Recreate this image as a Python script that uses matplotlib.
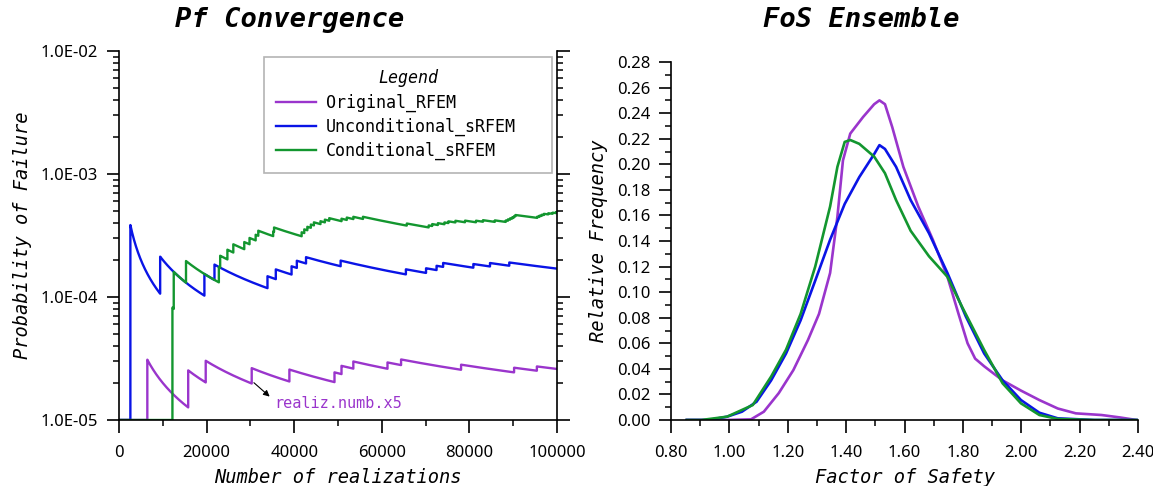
#importing
import matplotlib
matplotlib.use("Agg")
import matplotlib.pyplot as plt
import numpy as np
from matplotlib.ticker import FuncFormatter, MultipleLocator, NullFormatter

################################################
# data

# realization numbers at which a failure showed up (read at each jump)
# Original_RFEM is drawn against realiz.numb/5 (the "x5" note on the chart)
fail_original = [6470, 15800, 19800, 30300, 38900, 49200, 50800, 53500,
                 61300, 64400, 78100, 90200, 95400]
fail_uncond = [2600, 9400, 19500, 21800, 33900, 35800, 39400, 40600, 42700,
               50600, 65500, 70100, 72500, 74000, 80900, 84700, 89100]
fail_cond = [12200, 12500, 15300, 22800, 23100, 24750, 26100, 28600, 29800,
             31200, 31800, 35200, 35400, 41700, 42300, 43000, 43800, 44500,
             46000, 47000, 48000, 50800, 52000, 53500, 55700, 65700, 70700,
             71500, 72800, 74300, 75200, 76800, 79000, 81500, 83100, 85800,
             88300, 88800, 89300, 89800, 90200, 90500, 95500, 96000, 96500,
             97000, 98000, 99000, 99800]
n_max = 100000

# FoS ensemble (relative frequency curves)
fos_original = [0.854, 0.99, 1.074, 1.118, 1.169, 1.219, 1.269, 1.307, 1.345,
                1.37, 1.389, 1.414, 1.458, 1.496, 1.514, 1.533, 1.558, 1.596,
                1.647, 1.697, 1.747, 1.785, 1.816, 1.842, 1.873, 1.936, 1.999,
                2.062, 2.125, 2.187, 2.275, 2.338, 2.395]
rf_original = [0.0, 0.0, 0.0005, 0.0065, 0.021, 0.039, 0.0625, 0.083, 0.115,
               0.159, 0.203, 0.224, 0.237, 0.247, 0.250, 0.247, 0.229, 0.198,
               0.167, 0.141, 0.112, 0.083, 0.060, 0.048, 0.042, 0.031, 0.023,
               0.0156, 0.009, 0.0052, 0.0039, 0.002, 0.0]

fos_uncond = [0.854, 0.93, 0.992, 1.043, 1.093, 1.143, 1.194, 1.244, 1.294,
              1.345, 1.395, 1.445, 1.496, 1.514, 1.533, 1.571, 1.621, 1.684,
              1.747, 1.81, 1.873, 1.936, 1.999, 2.062, 2.125, 2.25, 2.395]
rf_uncond = [0.0, 0.0, 0.0026, 0.0065, 0.0143, 0.031, 0.052, 0.078, 0.109,
             0.141, 0.169, 0.190, 0.208, 0.215, 0.212, 0.198, 0.172, 0.146,
             0.115, 0.081, 0.052, 0.031, 0.0156, 0.0057, 0.0013, 0.0, 0.0]

fos_cond = [0.854, 0.904, 0.992, 1.08, 1.143, 1.194, 1.244, 1.294, 1.345,
            1.37, 1.395, 1.414, 1.445, 1.496, 1.533, 1.571, 1.621, 1.684,
            1.747, 1.797, 1.873, 1.936, 1.999, 2.062, 2.125, 2.25, 2.395]
rf_cond = [0.0, 0.0, 0.0026, 0.0117, 0.034, 0.055, 0.083, 0.120, 0.167,
           0.198, 0.2175, 0.219, 0.216, 0.206, 0.193, 0.172, 0.148, 0.128,
           0.112, 0.0886, 0.0547, 0.0287, 0.013, 0.0039, 0.0008, 0.0, 0.0]

labels = ["Original_RFEM", "Unconditional_sRFEM", "Conditional_sRFEM"]
colors = ["#9a35cc", "#0a14e6", "#13962f"]

################################################
mono = "DejaVu Sans Mono"
plt.rcParams['font.family'] = ['Noto Sans', 'DejaVu Sans']
plt.rcParams['axes.linewidth'] = 1.2

fig = plt.figure(figsize=(11.53, 4.86), dpi=100)
ax1 = fig.add_axes([0.1032, 0.1358, 0.3799, 0.7593])
ax2 = fig.add_axes([0.582, 0.1358, 0.405, 0.7366])

# Pf = failures so far / realizations so far
n = np.arange(1, n_max + 1)
series = [(fail_original, 5), (fail_uncond, 1), (fail_cond, 1)]
for (fails, mult), lab, col in zip(series, labels, colors):
    k = np.searchsorted(np.array(fails), n, side='right')
    pf = k / (n * mult)
    pf = np.where(pf <= 0, 1e-5, pf)
    ax1.plot(n, pf, color=col, lw=1.7, label=lab)

ax1.set_yscale('log')
ax1.set_xlim(0, n_max)
ax1.set_ylim(1e-5, 1e-2)
ax1.spines['top'].set_visible(False)
ax1.xaxis.set_major_locator(MultipleLocator(20000))
ax1.xaxis.set_minor_locator(MultipleLocator(10000))
ax1.xaxis.set_major_formatter(FuncFormatter(lambda v, p: f"{int(v)}"))
ax1.yaxis.set_major_formatter(FuncFormatter(lambda v, p: f"{v:.1E}"))
ax1.yaxis.set_minor_formatter(NullFormatter())
ax1.tick_params(axis='y', which='both', left=True, right=True)
ax1.tick_params(which='major', direction='out', length=9, width=1.2,
                labelsize=12, pad=6)
ax1.tick_params(axis='x', which='major', pad=9)
ax1.tick_params(which='minor', direction='out', length=4.5, width=1.1)

ax1.set_xlabel("Number of realizations", family=mono, style='italic',
               fontsize=13.5, labelpad=5)
ax1.set_ylabel("Probability of Failure", family=mono, style='italic',
               fontsize=13.5, labelpad=6)

leg = ax1.legend(loc='upper left', bbox_to_anchor=(0.331, 0.0, 0.657, 0.984),
                 mode='expand', borderaxespad=0, fancybox=False,
                 edgecolor='#b4b4b4', framealpha=1, handlelength=2.4,
                 handletextpad=0.55, labelspacing=0.36, borderpad=0.75,
                 title="Legend",
                 prop={'family': mono, 'size': 12},
                 title_fontproperties={'family': mono, 'style': 'italic',
                                       'size': 12})
leg.get_frame().set_linewidth(1.2)

ax1.annotate("realiz.numb.x5", xy=(34400, 1.55e-5), xytext=(35400, 1.37e-5),
             color=colors[0], family=mono, fontsize=11, va='center')
ax1.annotate("", xy=(34400, 1.55e-5), xytext=(30800, 2.01e-5),
             arrowprops=dict(arrowstyle='-|>', color='black', lw=0.8,
                             mutation_scale=9, shrinkA=0, shrinkB=0))

################################################
for x, y, lab, col in zip([fos_original, fos_uncond, fos_cond],
                          [rf_original, rf_uncond, rf_cond], labels, colors):
    ax2.plot(x, y, color=col, lw=1.9, label=lab)

ax2.set_xlim(0.8, 2.4)
ax2.set_ylim(0, 0.28)
ax2.spines['top'].set_visible(False)
ax2.spines['right'].set_visible(False)
ax2.xaxis.set_major_locator(MultipleLocator(0.2))
ax2.xaxis.set_minor_locator(MultipleLocator(0.1))
ax2.yaxis.set_major_locator(MultipleLocator(0.02))
ax2.yaxis.set_minor_locator(MultipleLocator(0.01))
ax2.xaxis.set_major_formatter(FuncFormatter(lambda v, p: f"{v:.2f}"))
ax2.yaxis.set_major_formatter(FuncFormatter(lambda v, p: f"{v:.2f}"))
ax2.tick_params(which='major', direction='out', length=9, width=1.2,
                labelsize=12, pad=6)
ax2.tick_params(axis='x', which='major', pad=9)
ax2.tick_params(which='minor', direction='out', length=4.5, width=1.1)
ax2.set_xlabel("Factor of Safety", family=mono, style='italic',
               fontsize=13.5, labelpad=5)
ax2.set_ylabel("Relative Frequency", family=mono, style='italic',
               fontsize=13.5, labelpad=6)

fig.text(290 / 1153, 1 - 20 / 486, "Pf Convergence", family=mono,
         weight='bold', style='italic', fontsize=19.5, ha='center', va='center')
fig.text(861 / 1153, 1 - 20 / 486, "FoS Ensemble", family=mono,
         weight='bold', style='italic', fontsize=19.5, ha='center', va='center')

plt.savefig('out.png', dpi=100)
